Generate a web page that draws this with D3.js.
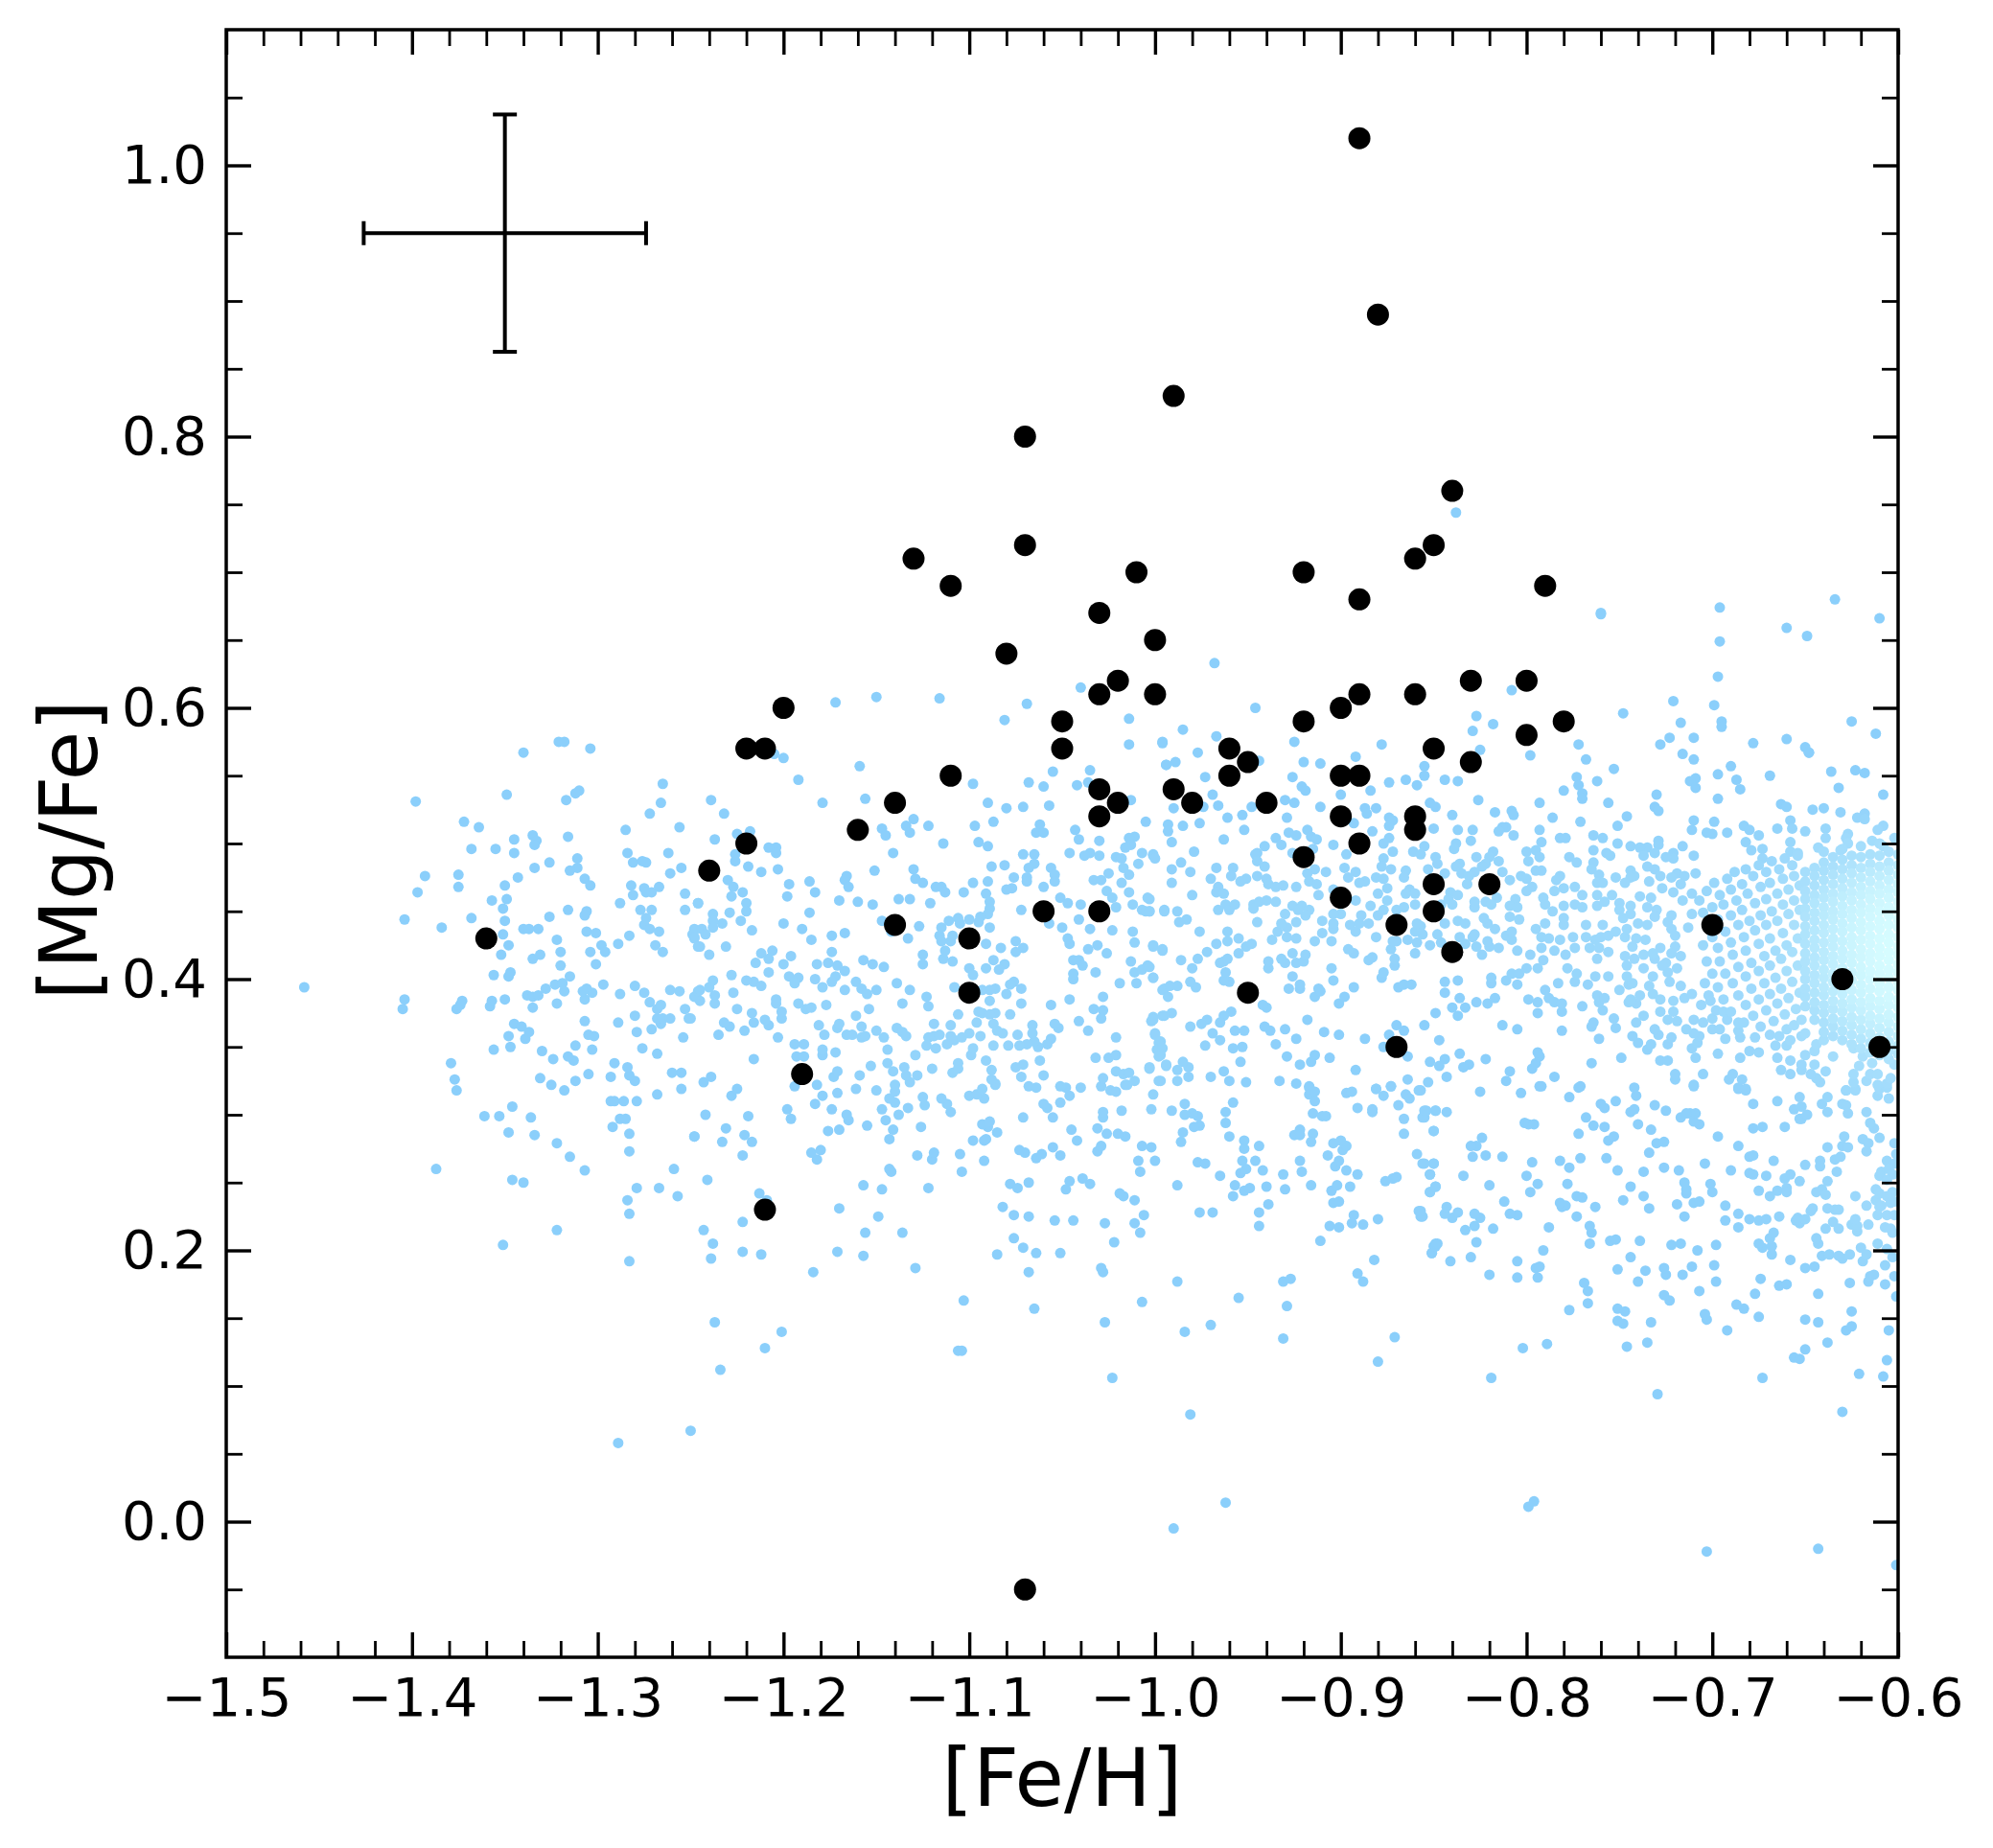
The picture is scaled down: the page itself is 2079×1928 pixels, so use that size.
<!DOCTYPE html>
<html>
<head>
<meta charset="utf-8">
<script src="https://cdn.jsdelivr.net/npm/d3@7"></script>
<style>
  html, body { margin: 0; background: #fff; }
  text { font-family: "DejaVu Sans"; fill: #000; }
</style>
</head>
<body>
<svg id="chart"></svg>
<script>
// black stars
const starFe = [-1.36,-1.24,-1.22,-1.21,-1.2,-1.22,-1.19,-1.21,-1.16,-1.14,-1.14,-1.13,-1.11,-1.11,-1.1,-1.1,-1.08,-1.07,-1.07,-1.07,-1.06,-1.05,-1.05,-1.03,-1.03,-1.03,-1.03,-1.03,-1.02,-1.02,-1.01,-1,-1,-.99,-.99,-.98,-.96,-.96,-.95,-.95,-.94,-.92,-.92,-.92,-.9,-.9,-.9,-.9,-.89,-.89,-.89,-.89,-.89,-.88,-.87,-.87,-.86,-.86,-.86,-.86,-.85,-.85,-.85,-.85,-.84,-.84,-.83,-.83,-.82,-.8,-.8,-.79,-.78,-.7,-.63,-.61];
const starMg = [.43,.48,.57,.57,.6,.5,.33,.23,.51,.53,.44,.71,.69,.55,.43,.39,.64,.8,.72,-.05,.45,.59,.57,.67,.61,.54,.52,.45,.62,.53,.7,.65,.61,.83,.54,.53,.57,.55,.56,.39,.53,.7,.59,.49,.6,.55,.52,.46,1.02,.68,.61,.55,.5,.89,.44,.35,.71,.61,.52,.51,.72,.57,.47,.45,.76,.42,.62,.56,.47,.62,.58,.69,.59,.44,.4,.35];

// typical uncertainty
const errFe = -1.35, errMg = .95, errFeSize = .076, errMgSize = .0875;

// field stars, fe,mg,fe,mg...
const fieldLeft = [-1.458,.394,-1.398,.531,-1.404,.444,-1.384,.438,-1.404,.385,-1.405,.378,-1.393,.476,-1.397,.464,-1.375,.477,-1.375,.468,-1.372,.516,-1.364,.512,-1.368,.496,-1.368,.445,-1.357,.458,-1.355,.496,-1.349,.536,-1.345,.503,-1.345,.493,-1.343,.475,-1.35,.469,-1.349,.459,-1.351,.452,-1.35,.443,-1.351,.433,-1.348,.425,-1.352,.418,-1.347,.405,-1.348,.402,-1.356,.403,-1.35,.385,-1.357,.384,-1.358,.38,-1.373,.384,-1.374,.381,-1.376,.378,-1.34,.437,-1.337,.437,-1.332,.437,-1.34,.567,-1.335,.506,-1.333,.502,-1.334,.499,-1.334,.482,-1.326,.486,-1.317,.532,-1.321,.575,-1.318,.575,-1.304,.57,-1.31,.539,-1.312,.537,-1.316,.505,-1.311,.489,-1.311,.482,-1.315,.48,-1.307,.474,-1.304,.469,-1.316,.451,-1.306,.45,-1.307,.447,-1.326,.446,-1.322,.429,-1.306,.435,-1.301,.434,-1.32,.42,-1.331,.418,-1.335,.415,-1.32,.41,-1.304,.42,-1.298,.425,-1.296,.42,-1.301,.411,-1.315,.402,-1.328,.393,-1.323,.396,-1.319,.397,-1.318,.391,-1.306,.393,-1.308,.391,-1.303,.39,-1.297,.396,-1.307,.385,-1.338,.388,-1.335,.387,-1.332,.388,-1.322,.382,-1.335,.379,-1.288,.389,-1.28,.395,-1.275,.39,-1.272,.383,-1.261,.392,-1.256,.391,-1.248,.387,-1.246,.391,-1.268,.378,-1.266,.381,-1.253,.378,-1.307,.369,-1.289,.368,-1.28,.373,-1.268,.371,-1.265,.371,-1.266,.367,-1.261,.371,-1.251,.371,-1.271,.363,-1.279,.361,-1.305,.359,-1.302,.358,-1.254,.357,-1.345,.367,-1.341,.365,-1.337,.361,-1.339,.356,-1.348,.358,-1.347,.35,-1.356,.348,-1.312,.351,-1.33,.347,-1.303,.348,-1.316,.343,-1.313,.34,-1.324,.341,-1.276,.349,-1.268,.345,-1.379,.338,-1.377,.326,-1.376,.318,-1.291,.338,-1.284,.335,-1.283,.329,-1.28,.325,-1.293,.328,-1.331,.327,-1.325,.322,-1.318,.318,-1.312,.325,-1.305,.33,-1.26,.331,-1.255,.331,-1.255,.319,-1.268,.315,-1.346,.306,-1.361,.299,-1.353,.299,-1.336,.298,-1.348,.287,-1.334,.285,-1.322,.279,-1.315,.269,-1.307,.259,-1.293,.31,-1.291,.31,-1.286,.31,-1.279,.31,-1.288,.297,-1.285,.297,-1.292,.291,-1.283,.286,-1.283,.273,-1.248,.284,-1.259,.26,-1.387,.26,-1.346,.252,-1.34,.25,-1.279,.246,-1.267,.246,-1.265,.544,-1.266,.53,-1.272,.522,-1.256,.512,-1.285,.51,-1.262,.493,-1.284,.493,-1.281,.486,-1.276,.487,-1.274,.486,-1.255,.482,-1.261,.478,-1.282,.469,-1.281,.462,-1.275,.467,-1.274,.464,-1.271,.464,-1.267,.468,-1.253,.463,-1.288,.456,-1.277,.451,-1.271,.451,-1.253,.451,-1.274,.445,-1.275,.44,-1.272,.437,-1.267,.435,-1.283,.432,-1.289,.426,-1.269,.425,-1.265,.42,-1.248,.437,-1.249,.433,-1.248,.43,-1.246,.456,-1.246,.424];
const fieldMidLeft = [-1.081,.591,-1.014,.592,-1.014,.573,-.996,.575,-.994,.558,-1.205,.566,-1.2,.563,-1.192,.547,-1.159,.557,-1.055,.553,-1.035,.554,-1.239,.532,-1.232,.522,-1.179,.53,-1.156,.533,-1.098,.544,-1.068,.545,-1.06,.542,-1.042,.543,-1.036,.545,-1.09,.53,-1.08,.526,-1.071,.527,-1.057,.528,-1.013,.532,-1.005,.516,-1.13,.518,-1.134,.513,-1.132,.508,-1.122,.513,-1.147,.511,-1.145,.506,-1.097,.513,-1.087,.516,-1.062,.514,-1.064,.508,-1.06,.508,-1.043,.51,-1.041,.503,-1.03,.502,-1.011,.505,-1.014,.504,-1.013,.499,-1.016,.497,-1.225,.507,-1.218,.509,-1.237,.503,-1.114,.5,-1.095,.501,-1.09,.498,-1.208,.497,-1.204,.497,-1.204,.493,-1.141,.493,-1.071,.492,-1.065,.492,-1.046,.493,-1.038,.491,-1.035,.493,-1.03,.491,-1.021,.49,-1.018,.489,-1.007,.493,-1.001,.492,-1.226,.492,-1.226,.487,-1.219,.483,-1.212,.479,-1.203,.481,-1.009,.485,-1.081,.484,-1.088,.483,-1.068,.482,-1.065,.485,-1.056,.482,-1.054,.477,-1.017,.482,-1.014,.477,-1.025,.478,-1.13,.481,-1.151,.48,-1.166,.476,-1.167,.473,-1.165,.468,-1.076,.475,-1.069,.475,-1.069,.472,-1.129,.474,-1.125,.471,-1.09,.472,-1.098,.471,-1.054,.472,-1.033,.473,-1.029,.473,-1.018,.471,-1.23,.473,-1.227,.468,-1.186,.472,-1.183,.464,-1.197,.47,-1.198,.461,-1.118,.468,-1.115,.468,-1.113,.464,-1.103,.464,-1.08,.466,-1.077,.467,-1.06,.468,-1.026,.465,-1.023,.46,-1.014,.464,-1.051,.46,-1.047,.456,-1.004,.46,-1.091,.463,-1.089,.457,-1.222,.464,-1.228,.461,-1.17,.458,-1.16,.457,-1.152,.455,-1.138,.459,-1.132,.459,-1.121,.456,-1.246,.456,-1.22,.456,-1.22,.45,-1.04,.455,-1.021,.453,-1.012,.455,-1.007,.451,-1.005,.45,-1.003,.45,-.995,.451,-1.072,.451,-1.186,.449,-1.229,.449,-1.238,.448,-1.238,.443,-1.089,.452,-1.09,.448,-1.094,.446,-1.223,.443,-1.233,.441,-1.238,.438,-1.2,.441,-1.147,.443,-1.111,.443,-1.106,.445,-1.105,.441,-1.1,.444,-1.095,.442,-1.041,.444,-1.057,.441,-1.248,.436,-1.244,.437,-1.242,.433,-1.248,.431,-1.217,.436,-1.19,.437,-1.127,.439,-1.115,.438,-1.089,.438,-1.05,.438,-1.035,.437,-1.023,.436,-1.012,.435,-1.174,.432,-1.167,.434,-1.142,.435,-1.133,.43,-1.116,.432,-1.109,.432,-1.115,.428,-1.11,.428,-1.185,.429,-1.047,.43,-1.046,.426,-1.075,.428,-1.091,.426,-1.011,.427,-1.001,.425,-.996,.422,-1.245,.424,-1.231,.424,-1.083,.423,-1.071,.423,-1.075,.42,-1.031,.425,-1.036,.422,-1.026,.419,-1.24,.418,-1.212,.419,-1.206,.421,-1.208,.415,-1.174,.42,-1.196,.417,-1.113,.421,-1.125,.418,-1.114,.415,-1.109,.413,-1.087,.414,-1.081,.411,-1.044,.414,-1.041,.414,-1.039,.41,-1.013,.413,-1.215,.412,-1.2,.411,-1.182,.411,-1.176,.412,-1.171,.41,-1.157,.414,-1.152,.411,-1.146,.409,-1.125,.411,-1.1,.408,-1.091,.408,-1.084,.407,-1.032,.405,-1.004,.41,-1.007,.407,-1.011,.405,-1.001,.401,-1.208,.405,-1.228,.403,-1.167,.406,-1.172,.402,-1.098,.403,-1.044,.404,-1.044,.4,-1.197,.402,-1.192,.401,-1.183,.4,-1.238,.399,-1.22,.399,-1.216,.398,-1.194,.397,-1.174,.398,-1.161,.398,-1.076,.398,-1.078,.396,-1.019,.397,-1.01,.397,-1.212,.395,-1.24,.394,-1.179,.394,-1.139,.397,-1.158,.393,-1.108,.394,-1.093,.392,-1.089,.392,-1.086,.393,-1.072,.393,-1.245,.392,-1.247,.387,-1.245,.384,-1.227,.39,-1.167,.392,-1.155,.389,-1.15,.392,-1.132,.392,-.995,.393,-1.08,.389,-1.237,.388,-1.123,.387,-1.028,.387,-1.204,.385,-1.237,.382,-1.204,.382,-1.177,.381,-1.136,.382,-1.122,.38,-1.089,.384,-1.072,.382,-1.056,.381,-1.046,.385,-1.192,.382,-1.225,.378,-1.201,.376,-1.188,.378,-1.185,.379,-1.154,.378,-1.033,.378,-1.028,.377,-1.095,.376,-1.093,.375,-1.089,.374,-1.086,.375,-1.106,.374,-1.217,.375,-1.078,.374,-1.029,.371,-.995,.373,-1.001,.372,-1.002,.369,-1.25,.371,-1.201,.371,-1.161,.373,-1.096,.368,-1.041,.369,-1.119,.367,-1.232,.368,-1.216,.368,-1.21,.37,-1.208,.366,-1.181,.366,-1.17,.367,-1.171,.364,-1.158,.365,-1.087,.367,-1.11,.366,-1.054,.367,-1.052,.364,-1.066,.366,-1.229,.365,-1.221,.362,-1.235,.359,-1.139,.364,-1.085,.362,-1.036,.362,-1.15,.362,-1.136,.361,-1.134,.358,-1.146,.357,-1.178,.359,-1.166,.359,-1.163,.359,-1.158,.357,-1.156,.358,-1.203,.357,-1.122,.357,-1.119,.358,-1.116,.359,-1.11,.358,-1.108,.355,-1.104,.357,-1.1,.36,-1.094,.358,-1.082,.36,-1.074,.359,-1.066,.36,-1.056,.356,-1.021,.357,-1,.36,-1.194,.352,-1.189,.352,-1.179,.348,-1.087,.351,-1.079,.351,-1.073,.351,-1.069,.352,-1.065,.354,-1.063,.35,-1.058,.352,-1.123,.351,-1.118,.349,-1.112,.352,-1.144,.348,-1.098,.349,-.997,.354,-.996,.349,-1.193,.343,-1.189,.343,-1.179,.344,-1.172,.346,-1.129,.344,-1.099,.344,-.997,.344,-1.032,.342,-1.025,.342,-1.021,.344,-1.062,.34,-1.216,.341,-1.091,.34,-1.144,.338,-1.153,.336,-1.106,.338,-1.135,.335,-1.071,.337,-1.075,.335,-.994,.337,-1.003,.335,-1.12,.334,-1.171,.332,-1.173,.328,-1.141,.332,-1.088,.333,-1.109,.331,-1.106,.334,-1.072,.328,-1.06,.329,-1.021,.332,-1.014,.331,-1.017,.33,-1.239,.328,-1.243,.324,-1.159,.329,-1.134,.329,-1.128,.329,-1.028,.327,-1.088,.326,-1.086,.323,-1.132,.324,-1.011,.325,-1.015,.322,-.997,.325,-1.225,.319,-1.228,.314,-1.182,.322,-1.194,.321,-1.14,.322,-1.161,.319,-1.15,.318,-1.171,.316,-1.179,.314,-1.14,.317,-1.143,.312,-1.14,.309,-1.183,.308,-1.125,.313,-1.124,.307,-1.115,.312,-1.112,.308,-1.11,.302,-1.147,.304,-1.133,.305,-1.198,.304,-1.174,.304,-1.242,.3,-1.219,.299,-1.196,.297,-1.166,.3,-1.165,.296,-1.138,.3,-1.145,.296,-1.231,.29,-1.155,.292,-1.126,.291,-1.141,.289,-1.176,.288,-1.17,.289,-1.248,.284,-1.221,.285,-1.233,.28,-1.217,.28,-1.143,.282,-1.18,.274,-1.185,.272,-1.182,.267,-1.222,.27,-1.128,.27,-1.119,.272,-1.12,.267,-1.143,.26,-1.142,.258,-1.241,.252,-1.157,.248,-1.122,.246,-1.147,.245];
const fieldLowLeft = [-1.351,.204,-1.322,.215,-1.284,.237,-1.283,.227,-1.257,.24,-1.283,.192,-1.243,.215,-1.238,.205,-1.239,.194,-1.222,.221,-1.213,.242,-1.209,.237,-1.222,.199,-1.212,.197,-1.17,.231,-1.149,.225,-1.156,.213,-1.136,.213,-1.171,.199,-1.157,.196,-1.184,.184,-1.129,.187,-1.237,.147,-1.201,.14,-1.21,.128,-1.234,.112,-1.106,.126,-1.25,.067,-1.289,.058,-.981,.079,-.99,-.005,-.962,.014,-1.172,.604,-1.15,.608,-1.116,.607,-1.069,.603,-1.04,.615];
const fieldMid = [-.968,.633,-.76,.669,-.838,.744,-.946,.6,-.985,.584,-.967,.579,-.996,.574,-.925,.575,-.977,.567,-.878,.573,-.892,.564,-.829,.583,-.827,.594,-.818,.588,-.808,.613,-.798,.565,-.825,.569,-.944,.561,-.92,.56,-.911,.559,-.855,.557,-.855,.55,-.989,.56,-.994,.558,-.973,.549,-.926,.549,-.865,.547,-.844,.547,-.837,.546,-.874,.545,-.859,.543,-.921,.542,-.919,.539,-.884,.539,-.9,.536,-.969,.536,-.966,.528,-.826,.532,-.93,.532,-.925,.53,-.852,.53,-.849,.527,-.99,.526,-.974,.527,-.948,.527,-.911,.527,-.887,.526,-.886,.522,-.881,.526,-.817,.523,-.808,.524,-.807,.521,-.84,.521,-.953,.521,-.961,.519,-.929,.519,-.874,.519,-.872,.517,-.893,.515,-.874,.513,-.813,.512,-.811,.512,-.815,.509,-.807,.506,-.85,.511,-.993,.514,-.993,.509,-.976,.515,-.985,.513,-.837,.51,-.829,.51,-.952,.51,-.928,.508,-.924,.506,-.918,.51,-.883,.509,-.916,.505,-.913,.503,-.991,.501,-.963,.503,-.935,.504,-.874,.504,-.877,.5,-.83,.502,-.941,.498,-.932,.499,-.904,.499,-.855,.498,-.838,.5,-.839,.496,-.915,.496,-1.001,.491,-.979,.494,-.926,.493,-.945,.493,-.946,.492,-.872,.494,-.897,.492,-.861,.494,-.857,.492,-.8,.494,-.818,.494,-1,.489,-.986,.486,-.945,.487,-.941,.483,-.877,.489,-.878,.483,-.849,.49,-.848,.485,-.827,.49,-.82,.49,-.822,.485,-.815,.487,-.799,.487,-.967,.482,-.958,.482,-.991,.481,-.898,.482,-.873,.481,-.836,.485,-.838,.483,-.835,.478,-.853,.481,-.844,.478,-.981,.479,-.908,.479,-.914,.481,-.918,.478,-.892,.479,-.865,.48,-.866,.475,-.813,.479,-.824,.483,-.828,.479,-.831,.476,-.959,.476,-.97,.474,-.896,.475,-.881,.475,-.877,.474,-.945,.476,-.94,.474,-.809,.473,-.803,.476,-.8,.474,-.991,.471,-.954,.472,-.951,.474,-.917,.472,-.913,.47,-.89,.471,-.887,.472,-.935,.468,-.931,.469,-.939,.47,-.924,.468,-.832,.47,-.966,.468,-.875,.467,-.904,.466,-.797,.468,-.8,.465,-.98,.462,-.967,.464,-.963,.463,-.912,.462,-.88,.463,-.865,.463,-.863,.466,-.86,.463,-.841,.464,-.837,.462,-.806,.459,-1.003,.459,-.935,.457,-.94,.458,-.944,.457,-.947,.455,-.892,.458,-.875,.458,-.842,.459,-.846,.455,-.84,.455,-.816,.46,-.819,.455,-.822,.457,-.828,.457,-.828,.453,-.962,.455,-.957,.455,-.884,.454,-.866,.453,-.87,.451,-.86,.455,-.809,.454,-.805,.453,-.926,.454,-.921,.454,-.917,.451,-.923,.451,-.919,.447,-.966,.451,-.96,.451,-.947,.452,-.995,.45,-.988,.45,-1.003,.45,-.877,.451,-.88,.447,-.9,.448,-.904,.448,-.889,.447,-.93,.448,-.809,.446,-.804,.444,-.837,.443,-.833,.441,-.823,.445,-.821,.441,-.817,.437,-.844,.441,-.987,.442,-.983,.444,-.945,.442,-.91,.443,-.904,.441,-.904,.437,-.924,.442,-.932,.441,-.929,.438,-.934,.435,-.895,.44,-.89,.441,-.885,.441,-.859,.441,-.857,.439,-.976,.435,-.961,.435,-.892,.435,-.91,.434,-.86,.435,-.856,.433,-.848,.433,-.846,.427,-.828,.433,-.829,.431,-.811,.432,-.808,.435,-.808,.429,-.821,.428,-.82,.424,-.836,.431,-.833,.426,-.929,.431,-.924,.43,-.937,.429,-.955,.43,-.961,.428,-.905,.428,-.914,.428,-.881,.431,-.872,.428,-.87,.428,-.864,.429,-.859,.427,-1.001,.424,-.996,.421,-.967,.426,-.948,.426,-.951,.424,-.955,.419,-.972,.42,-.827,.424,-.824,.418,-.815,.423,-.896,.422,-.893,.419,-.873,.422,-.852,.425,-.805,.421,-.963,.413,-.961,.415,-.986,.414,-.977,.415,-.939,.413,-.939,.408,-.932,.415,-.93,.412,-.926,.419,-.924,.412,-.919,.418,-.92,.413,-.86,.419,-.871,.415,-.871,.41,-.883,.416,-.885,.414,-.798,.418,-.8,.408,-.98,.408,-.965,.412,-1.001,.401,-1.003,.409,-.905,.408,-.962,.405,-.877,.405,-.878,.401,-.926,.402,-.819,.401,-.819,.397,-.811,.399,-.808,.404,-.805,.396,-.804,.404,-.844,.398,-.837,.399,-.981,.398,-.978,.394,-.963,.399,-.96,.398,-.904,.399,-.992,.395,-.988,.395,-.996,.392,-.922,.396,-.922,.393,-.928,.393,-.912,.393,-.911,.391,-.914,.387,-.893,.394,-.869,.394,-.866,.396,-.862,.396,-.844,.39,-.993,.387,-.898,.387,-.901,.382,-.799,.385,-.827,.383,-.821,.382,-.817,.386,-.836,.386,-.833,.379,-.84,.379,-.837,.373,-.942,.381,-.94,.379,-.849,.375,-.959,.376,-.963,.373,-.965,.368,-.991,.375,-.996,.373,-1.001,.37,-.918,.37,-.972,.37,-.975,.367,-.981,.365,-.855,.366,-.813,.366,-.805,.363,-.87,.366,-.866,.362,-.874,.359,-.877,.35,-.941,.365,-.938,.362,-.93,.363,-.909,.361,-.901,.359,-.969,.36,-.965,.355,-.957,.362,-.952,.362,-1,.359,-.924,.356,-.887,.356,-.847,.355,-.998,.353,-.999,.348,-.998,.343,-.973,.351,-.958,.349,-.953,.35,-.935,.352,-.836,.345,-.831,.337,-.834,.335,-.844,.341,-.847,.336,-.822,.341,-.852,.339,-.864,.343,-.797,.334,-.929,.343,-.914,.344,-.916,.339,-.906,.342,-.922,.337,-.954,.339,-.994,.336,-.982,.335,-.985,.339,-.988,.333,-.982,.328,-.892,.333,-.963,.332,-1.003,.334,-.97,.328,-.96,.325,-.951,.324,-.809,.332,-.811,.325,-.843,.328,-.864,.326,-.853,.324,-.998,.325,-.988,.325,-.933,.325,-.924,.323,-.873,.321,-.917,.32,-.881,.319];
const fieldRight = [-.768,.562,-.753,.555,-.716,.566,-.71,.562,-.773,.549,-.762,.546,-.772,.543,-.77,.537,-.77,.533,-.78,.539,-.793,.53,-.756,.53,-.69,.557,-.697,.551,-.687,.547,-.712,.546,-.709,.548,-.709,.541,-.685,.54,-.669,.55,-.73,.536,-.697,.533,-.731,.527,-.729,.524,-.786,.519,-.771,.516,-.746,.52,-.751,.513,-.793,.51,-.764,.506,-.782,.504,-.779,.504,-.759,.504,-.751,.5,-.792,.501,-.71,.517,-.711,.51,-.703,.508,-.7,.507,-.699,.516,-.692,.508,-.683,.513,-.68,.51,-.682,.501,-.675,.506,-.665,.511,-.658,.517,-.657,.511,-.65,.509,-.663,.529,-.66,.527,-.646,.525,-.64,.526,-.631,.523,-.636,.553,-.623,.554,-.618,.552,-.632,.541,-.608,.536,-.648,.567,-.622,.519,-.618,.522,-.618,.518,-.639,.511,-.639,.504,-.627,.507,-.628,.504,-.627,.5,-.631,.495,-.608,.513,-.611,.51,-.614,.502,-.602,.504,-.658,.501,-.643,.497,-.608,.498,-.744,.498,-.739,.497,-.735,.497,-.737,.491,-.731,.493,-.729,.502,-.729,.499,-.716,.498,-.71,.491,-.764,.495,-.757,.493,-.755,.491,-.658,.494,-.654,.493,-.673,.496,-.679,.495,-.673,.489,-.777,.49,-.773,.486,-.721,.493,-.725,.49,-.721,.489,-.795,.495,-.793,.49,-.764,.486,-.765,.481,-.735,.483,-.731,.481,-.728,.476,-.744,.48,-.742,.476,-.747,.471,-.744,.475,-.792,.48,-.795,.48,-.709,.478,-.761,.477,-.759,.471,-.762,.471,-.782,.476,-.784,.473,-.752,.475,-.734,.472,-.722,.475,-.719,.478,-.715,.476,-.717,.47,-.727,.467,-.721,.464,-.716,.458,-.711,.463,-.774,.468,-.77,.462,-.78,.467,-.785,.465,-.762,.462,-.754,.462,-.758,.457,-.762,.454,-.739,.461,-.733,.46,-.735,.453,-.75,.456,-.791,.46,-.79,.455,-.786,.45,-.78,.454,-.774,.455,-.77,.453,-.744,.454,-.75,.451,-.73,.451,-.731,.446,-.748,.445,-.744,.448,-.78,.445,-.78,.44,-.775,.431,-.79,.441,-.795,.437,-.722,.447,-.724,.442,-.722,.437,-.72,.432,-.713,.438,-.711,.448,-.768,.44,-.759,.44,-.752,.435,-.746,.437,-.74,.441,-.735,.44,-.768,.431,-.763,.429,-.76,.431,-.756,.432,-.788,.43,-.782,.429,-.792,.431,-.747,.431,-.741,.43,-.736,.429,-.743,.424,-.766,.423,-.761,.423,-.756,.42,-.774,.423,-.728,.423,-.732,.419,-.737,.418,-.792,.423,-.785,.421,-.779,.418,-.762,.415,-.794,.408,-.791,.414,-.747,.417,-.742,.415,-.746,.41,-.737,.408,-.731,.415,-.725,.412,-.722,.419,-.72,.424,-.717,.417,-.778,.408,-.773,.404,-.763,.402,-.756,.402,-.767,.396,-.774,.398,-.746,.402,-.745,.396,-.743,.397,-.732,.402,-.734,.395,-.727,.41,-.724,.405,-.719,.408,-.723,.398,-.717,.395,-.783,.397,-.79,.392,-.788,.386,-.785,.383,-.781,.382,-.781,.376,-.762,.388,-.758,.386,-.761,.383,-.759,.377,-.75,.392,-.732,.389,-.739,.388,-.744,.385,-.745,.383,-.741,.382,-.737,.373,-.741,.368,-.728,.385,-.728,.376,-.794,.383,-.794,.375,-.77,.38,-.721,.384,-.715,.386,-.711,.389,-.753,.371,-.752,.364,-.721,.376,-.724,.37,-.719,.369,-.714,.363,-.764,.368,-.765,.365,-.781,.362,-.731,.363,-.729,.359,-.743,.358,-.74,.353,-.761,.356,-.71,.36,-.707,.358,-.708,.353,-.711,.349,-.722,.357,-.724,.352,-.733,.352,-.735,.348,-.794,.346,-.793,.343,-.795,.338,-.749,.342,-.709,.342,-.697,.345,-.685,.342,-.68,.347,-.675,.346,-.728,.34,-.724,.34,-.765,.338,-.72,.33,-.72,.326,-.705,.33,-.785,.328,-.689,.33,-.691,.326,-.684,.326,-.686,.32,-.682,.318,-.71,.322,-.793,.321,-.772,.32,-.665,.342,-.658,.34,-.663,.333,-.658,.33,-.652,.337,-.652,.333,-.647,.33,-.644,.327,-.642,.324,-.639,.332,-.628,.318,-.623,.318,-.65,.344,-.645,.337,-.635,.343,-.624,.33,-.621,.336,-.624,.324,-.617,.325,-.615,.33,-.611,.33,-.611,.322,-.606,.323,-.604,.327,-.624,.349,-.619,.343,-.602,.337,-.614,.338,-.666,.351,-.66,.351,-.658,.355,-.677,.357,-.669,.359,-.664,.358,-.645,.347,-.644,.352,-.64,.355,-.65,.36,-.693,.356,-.685,.357,-.686,.362,-.7,.363,-.696,.363,-.683,.368,-.705,.368,-.71,.37,-.692,.37,-.694,.376,-.7,.371,-.706,.381,-.701,.384];
const fieldUpper = [-.76,.67,-.696,.674,-.696,.649,-.697,.623,-.699,.602,-.721,.605,-.66,.659,-.649,.653,-.634,.68,-.61,.666,-.748,.596,-.717,.589,-.695,.59,-.695,.586,-.723,.578,-.728,.573,-.71,.578,-.678,.574,-.66,.577,-.65,.571,-.648,.567,-.625,.59,-.612,.581,-.772,.573];
const fieldLowMid = [-1.1,.314,-1.096,.315,-1.092,.312,-1.093,.319,-1.086,.322,-1.068,.321,-1.064,.32,-1.051,.321,-1.048,.32,-1.046,.314,-1.051,.309,-1.04,.32,-1.029,.321,-1.024,.318,-1.021,.317,-1.016,.322,-1.001,.315,-1.06,.308,-1.058,.305,-1.055,.298,-1.071,.298,-1.028,.302,-1.028,.298,-1.018,.303,-1.002,.304,-.991,.303,-.984,.308,-.984,.3,-.98,.301,-.977,.299,-.958,.309,-.962,.302,-.962,.294,-.96,.284,-.917,.321,-.914,.317,-.917,.315,-.914,.31,-.915,.301,-.91,.299,-.908,.299,-.897,.316,-.894,.317,-.891,.305,-.883,.304,-.883,.302,-.881,.319,-.877,.314,-.873,.321,-.865,.315,-.863,.312,-.858,.318,-.869,.307,-.866,.297,-.866,.286,-.854,.303,-.856,.298,-.849,.303,-.85,.288,-1.093,.293,-1.089,.295,-1.09,.291,-1.085,.287,-1.098,.281,-1.092,.281,-1.091,.282,-1.045,.289,-1.042,.281,-1.031,.29,-1.026,.286,-1.02,.286,-1.016,.284,-.985,.287,-.986,.28,-.979,.291,-.976,.292,-.922,.289,-.925,.285,-.922,.285,-.915,.286,-.916,.28,-.952,.281,-.952,.275,-.944,.277,-.9,.281,-.904,.279,-.897,.277,-.899,.274,-1.105,.271,-1.073,.274,-1.07,.272,-1.061,.271,-1.064,.268,-1.055,.276,-1.051,.27,-1.007,.277,-1.002,.276,-1.029,.277,-1.031,.273,-1.092,.266,-1.009,.266,-1,.266,-1.008,.258,-.977,.265,-.973,.264,-.953,.266,-.946,.266,-.922,.266,-.907,.27,-.901,.266,-.903,.262,-.859,.271,-.856,.264,-.85,.264,-1.104,.258,-.951,.26,-.954,.257,-.942,.259,-.965,.255,-.931,.256,-.921,.258,-.897,.259,-.891,.256,-.852,.256,-1.078,.249,-1.074,.246,-1.068,.25,-1.046,.251,-1.048,.245,-1.039,.253,-1.035,.249,-.988,.248,-.957,.248,-.952,.244,-.949,.246,-.94,.247,-.93,.245,-.916,.248,-.902,.248,-.905,.244,-.895,.247,-.876,.251,-.872,.253,-.87,.254,-.852,.243,-.849,.247,-1.019,.242,-1.017,.24,-1.011,.237,-.958,.24,-.939,.234,-.944,.228,-.904,.235,-.901,.236,-1.082,.232,-1.076,.226,-1.068,.225,-1.054,.222,-1.044,.222,-.976,.228,-.969,.228,-1.006,.226,-1.011,.22,-1.008,.213,-1.027,.22,-.893,.226,-.894,.22,-.888,.219,-.88,.223,-.906,.218,-.901,.217,-.858,.229,-.857,.225,-.944,.218,-1.076,.209,-1.071,.202,-1.064,.198,-1.051,.198,-1.085,.197,-1.022,.206,-.911,.207,-.849,.205,-.85,.203,-.851,.198,-.882,.193,-1.068,.184,-1.029,.187,-1.028,.184,-.988,.177,-.931,.177,-.927,.179,-.891,.183,-.888,.177,-.955,.165,-1.007,.162,-1.103,.163,-.929,.159,-1.065,.157,-1.027,.147,-.97,.145,-.984,.14,-.931,.135,-.871,.136,-1.104,.126,-.88,.118,-1.023,.106];
const fieldLowRight = [-.825,.317,-.803,.316,-.792,.321,-.777,.313,-.771,.321,-.857,.318,-.742,.32,-.741,.314,-.71,.321,-.76,.308,-.758,.305,-.752,.31,-.731,.307,-.725,.303,-.744,.302,-.742,.304,-.855,.303,-.849,.303,-.843,.302,-.855,.298,-.768,.298,-.801,.294,-.799,.293,-.796,.293,-.764,.292,-.758,.291,-.74,.293,-.733,.289,-.85,.288,-.772,.286,-.753,.284,-.756,.281,-.824,.283,-.83,.277,-.827,.277,-.686,.319,-.682,.319,-.678,.308,-.665,.31,-.653,.313,-.638,.313,-.717,.298,-.714,.301,-.712,.301,-.709,.301,-.71,.295,-.707,.293,-.656,.304,-.652,.306,-.653,.297,-.649,.3,-.652,.297,-.641,.308,-.638,.302,-.63,.308,-.627,.301,-.628,.307,-.617,.302,-.628,.318,-.623,.319,-.61,.319,-.606,.32,-.611,.314,-.605,.312,-.615,.294,-.613,.29,-.61,.283,-.678,.29,-.673,.291,-.661,.291,-.697,.284,-.73,.279,-.726,.28,-.734,.272,-.686,.277,-.629,.284,-.619,.282,-.616,.279,-.617,.273,-.638,.276,-.63,.277,-.627,.276,-.602,.279,-.68,.269,-.678,.27,-.667,.266,-.631,.269,-.634,.267,-.642,.266,-.642,.262,-.65,.263,-.829,.269,-.822,.27,-.813,.269,-.797,.265,-.782,.266,-.771,.268,-.757,.268,-.855,.264,-.85,.264,-.777,.261,-.726,.261,-.718,.259,-.704,.264,-.69,.259,-.751,.259,-.737,.258,-.852,.256,-.834,.255,-.8,.255,-.68,.257,-.678,.256,-.671,.255,-.661,.253,-.658,.256,-.653,.251,-.633,.258,-.606,.266,-.609,.258,-.61,.255,-.605,.26,-.602,.264,-.603,.256,-.601,.271,-.606,.252,-.638,.251,-.82,.248,-.794,.249,-.778,.249,-.744,.247,-.849,.247,-.852,.243,-.715,.25,-.714,.245,-.714,.242,-.701,.249,-.7,.243,-.675,.244,-.669,.24,-.665,.244,-.66,.246,-.66,.243,-.644,.243,-.641,.245,-.639,.241,-.612,.245,-.61,.242,-.612,.237,-.606,.24,-.603,.243,-.609,.233,-.602,.236,-.61,.232,-.604,.235,-.798,.243,-.737,.24,-.773,.24,-.77,.239,-.623,.24,-.812,.236,-.748,.237,-.71,.235,-.707,.236,-.719,.234,-.782,.235,-.779,.233,-.781,.232,-.843,.232,-.837,.228,-.844,.227,-.84,.224,-.763,.232,-.734,.231,-.693,.233,-.617,.233,-.646,.231,-.647,.229,-.638,.231,-.634,.23,-.632,.23,-.828,.227,-.825,.224,-.809,.227,-.805,.226,-.686,.227,-.715,.225,-.773,.225,-.857,.229,-.856,.225,-.611,.226,-.606,.226,-.602,.226,-.693,.222,-.68,.223,-.675,.222,-.671,.223,-.664,.225,-.654,.224,-.655,.222,-.653,.22,-.65,.223,-.635,.221,-.632,.216,-.625,.219,-.622,.218,-.623,.223,-.622,.214,-.616,.219,-.607,.217,-.604,.216,-.603,.213,-.828,.218,-.833,.215,-.818,.216,-.788,.217,-.766,.218,-.765,.213,-.686,.217,-.639,.216,-.667,.213,-.669,.209,-.644,.209,-.643,.205,-.827,.206,-.848,.205,-.849,.203,-.851,.198,-.739,.207,-.752,.208,-.755,.207,-.766,.205,-.675,.205,-.673,.202,-.668,.203,-.668,.197,-.611,.205,-.606,.201,-.722,.204,-.717,.205,-.698,.204,-.708,.2,-.62,.202,-.617,.197,-.791,.2,-.83,.195,-.841,.192,-.744,.195,-.641,.196,-.637,.197,-.632,.196,-.63,.194,-.626,.197,-.619,.192,-.603,.195,-.658,.193,-.805,.192,-.795,.187,-.793,.188,-.711,.188,-.699,.189,-.726,.187,-.725,.182,-.751,.186,-.736,.185,-.65,.187,-.645,.188,-.607,.189,-.82,.182,-.805,.18,-.794,.18,-.716,.182,-.602,.181,-.615,.181,-.613,.182,-.616,.177,-.674,.179,-.769,.176,-.74,.177,-.698,.177,-.767,.17,-.707,.17,-.664,.174,-.66,.175,-.626,.176,-.607,.175,-.677,.168,-.643,.168,-.726,.167,-.723,.163,-.601,.166,-.767,.161,-.777,.156,-.687,.16,-.683,.157,-.751,.157,-.747,.155,-.625,.155,-.704,.153,-.703,.149,-.675,.151,-.751,.148,-.748,.146,-.733,.147,-.65,.149,-.643,.147,-.625,.144,-.628,.141,-.605,.141,-.692,.141,-.789,.131,-.802,.128,-.746,.129,-.735,.132,-.638,.132,-.65,.127,-.656,.121,-.653,.12,-.606,.119,-.819,.106,-.673,.106,-.621,.109,-.608,.107,-.7295,.094,-.63,.081,-.796,.015,-.799,.011,-.703,-.022,-.643,-.02,-.601,-.032];

// dense wedge at the metal rich end, dots cannot be told apart so these are estimates
const fieldCoreLeft = [-.707,.458,-.703,.465,-.699,.471,-.696,.462,-.692,.474,-.688,.479,-.69,.466,-.684,.47,-.682,.481,-.678,.476,-.675,.484,-.671,.479,-.668,.487,-.664,.481,-.661,.489,-.657,.484,-.654,.491,-.705,.449,-.7,.453,-.694,.455,-.687,.458,-.681,.463,-.674,.468,-.669,.471,-.662,.474,-.656,.476,-.703,.44,-.697,.444,-.69,.447,-.684,.451,-.677,.456,-.671,.459,-.665,.463,-.659,.466,-.653,.469,-.7,.431,-.693,.435,-.686,.44,-.68,.443,-.674,.447,-.668,.45,-.662,.455,-.656,.458,-.705,.425,-.697,.423,-.69,.427,-.683,.431,-.677,.436,-.671,.44,-.665,.443,-.659,.448,-.653,.451,-.703,.413,-.696,.413,-.689,.418,-.682,.421,-.675,.426,-.669,.43,-.662,.434,-.656,.44,-.7,.404,-.693,.404,-.686,.409,-.679,.412,-.672,.417,-.666,.421,-.66,.425,-.654,.43,-.704,.397,-.697,.394,-.689,.397,-.682,.402,-.675,.406,-.669,.41,-.663,.415,-.657,.42,-.702,.388,-.694,.385,-.686,.388,-.679,.393,-.672,.397,-.666,.401,-.66,.406,-.654,.41,-.698,.377,-.69,.376,-.682,.381,-.675,.385,-.669,.389,-.663,.393,-.657,.398,-.686,.368,-.678,.373,-.671,.377,-.665,.382,-.659,.386,-.653,.39,-.674,.365,-.667,.369,-.661,.374,-.655,.378,-.652,.37,-.66,.363,-.656,.366,-.652,.358];
const coreFe = [-.65,-.645,-.64,-.635,-.63,-.625,-.62,-.615,-.61,-.605,-.6];
const coreMg = [
  [.479,.472,.465,.459,.452,.446,.439,.433,.426,.419,.413,.406,.4,.393,.387,.38],
  [.482,.476,.469,.462,.456,.449,.443,.436,.429,.423,.416,.41,.403,.397,.39,.383,.377,.37],
  [.494,.486,.48,.473,.466,.46,.453,.447,.44,.434,.427,.42,.414,.407,.401,.394,.388,.381,.375,.368,.361],
  [.49,.483,.477,.47,.463,.457,.45,.444,.437,.43,.424,.417,.411,.404,.398,.391,.384,.378,.371,.365,.358],
  [.496,.488,.481,.474,.467,.461,.454,.448,.441,.435,.428,.421,.415,.408,.402,.395,.389,.382,.376,.369,.362,.355],
  [.491,.484,.478,.471,.464,.458,.451,.445,.438,.431,.425,.418,.412,.405,.399,.392,.385,.379,.372,.366,.359,.352],
  [.498,.49,.482,.475,.468,.462,.455,.449,.442,.436,.429,.422,.416,.409,.403,.396,.39,.383,.377,.37,.363,.356,.349],
  [.492,.485,.479,.472,.465,.459,.452,.446,.439,.432,.426,.419,.413,.406,.4,.393,.386,.38,.373,.367,.36,.353,.346],
  [.5,.491,.483,.476,.469,.463,.456,.45,.443,.437,.43,.423,.417,.41,.404,.397,.391,.384,.378,.371,.364,.357,.35,.344],
  [.494,.486,.48,.473,.466,.46,.453,.447,.44,.433,.427,.42,.414,.407,.401,.394,.387,.381,.374,.368,.361,.354,.347,.341],
  [.502,.492,.484,.477,.47,.464,.457,.451,.444,.438,.431,.424,.418,.411,.405,.398,.392,.385,.379,.372,.365,.358,.351,.345]
];

const xTicks = [-1.5,-1.4,-1.3,-1.2,-1.1,-1,-.9,-.8,-.7,-.6];
const yTicks = [0,.2,.4,.6,.8,1];
const xMinor = [-1.48,-1.46,-1.44,-1.42,-1.38,-1.36,-1.34,-1.32,-1.28,-1.26,-1.24,-1.22,-1.18,-1.16,-1.14,-1.12,-1.08,-1.06,-1.04,-1.02,-.98,-.96,-.94,-.92,-.88,-.86,-.84,-.82,-.78,-.76,-.74,-.72,-.68,-.66,-.64,-.62];
const yMinor = [-.05,.05,.1,.15,.25,.3,.35,.45,.5,.55,.65,.7,.75,.85,.9,.95,1.05];

const width = 2079, height = 1928;
const left = 236, right = 1980, top_ = 31, bottom = 1729;

const x = d3.scaleLinear().domain([-1.5, -.6]).range([left, right]);
const y = d3.scaleLinear().domain([-.1, 1.1]).range([bottom, top_]);

const svg = d3.select("#chart").attr("width", width).attr("height", height);

svg.append("clipPath").attr("id", "plot-area")
  .append("rect")
  .attr("x", left).attr("y", top_)
  .attr("width", right - left).attr("height", bottom - top_);

const toPoints = (flat) => d3.range(0, flat.length, 2).map((i) => [flat[i], flat[i + 1]]);

const field = [fieldLeft, fieldMidLeft, fieldLowLeft, fieldMid, fieldRight, fieldUpper, fieldLowMid, fieldLowRight, fieldCoreLeft]
  .flatMap(toPoints)
  .concat(coreFe.flatMap((fe, i) => coreMg[i].map((mg) => [fe, mg])));

// colour by local density, mirrored at the right limit since the sample runs on past it
const hx = .022, hy = .026;
const kernel = (dx, dy) => Math.exp(-.5 * (dx * dx / (hx * hx) + dy * dy / (hy * hy)));
const density = field.map(([fe, mg]) =>
  d3.sum(field, ([f, m]) => kernel(fe - f, mg - m) + kernel(fe - (-1.2 - f), mg - m)));
const maxDensity = d3.max(density);
const color = d3.scaleLinear()
  .domain([.18, .7, 1])
  .range(["#8bcffb", "#abe1fc", "#d6fcff"])
  .clamp(true);

const order = d3.range(field.length).sort((a, b) => density[a] - density[b]);

svg.append("g")
  .attr("clip-path", "url(#plot-area)")
  .selectAll("circle")
  .data(order)
  .join("circle")
  .attr("cx", (i) => x(field[i][0]))
  .attr("cy", (i) => y(field[i][1]))
  .attr("r", 5.5)
  .attr("fill", (i) => color(density[i] / maxDensity));

// axes, ticks point inward on all four sides
const styleAxis = (g, w) => {
  g.select(".domain").remove();
  g.selectAll("line").attr("stroke", "#000").attr("stroke-width", w);
};

const xFmt = d3.format(".1f");
svg.append("g").attr("transform", `translate(0,${bottom})`)
  .call(d3.axisBottom(x).tickValues(xTicks).tickSizeInner(-26).tickSizeOuter(0).tickPadding(21).tickFormat(xFmt))
  .call(styleAxis, 3.4)
  .selectAll("text").attr("font-size", 56).attr("font-family", "DejaVu Sans");
svg.append("g").attr("transform", `translate(0,${bottom})`)
  .call(d3.axisBottom(x).tickValues(xMinor).tickSizeInner(-17).tickSizeOuter(0).tickFormat(""))
  .call(styleAxis, 2.8);
svg.append("g").attr("transform", `translate(0,${top_})`)
  .call(d3.axisTop(x).tickValues(xTicks).tickSizeInner(-26).tickSizeOuter(0).tickFormat(""))
  .call(styleAxis, 3.4);
svg.append("g").attr("transform", `translate(0,${top_})`)
  .call(d3.axisTop(x).tickValues(xMinor).tickSizeInner(-17).tickSizeOuter(0).tickFormat(""))
  .call(styleAxis, 2.8);

svg.append("g").attr("transform", `translate(${left},0)`)
  .call(d3.axisLeft(y).tickValues(yTicks).tickSizeInner(-26).tickSizeOuter(0).tickPadding(20).tickFormat(xFmt))
  .call(styleAxis, 3.4)
  .selectAll("text").attr("font-size", 56).attr("font-family", "DejaVu Sans");
svg.append("g").attr("transform", `translate(${left},0)`)
  .call(d3.axisLeft(y).tickValues(yMinor).tickSizeInner(-17).tickSizeOuter(0).tickFormat(""))
  .call(styleAxis, 2.8);
svg.append("g").attr("transform", `translate(${right},0)`)
  .call(d3.axisRight(y).tickValues(yTicks).tickSizeInner(-26).tickSizeOuter(0).tickFormat(""))
  .call(styleAxis, 3.4);
svg.append("g").attr("transform", `translate(${right},0)`)
  .call(d3.axisRight(y).tickValues(yMinor).tickSizeInner(-17).tickSizeOuter(0).tickFormat(""))
  .call(styleAxis, 2.8);

svg.append("rect")
  .attr("x", left).attr("y", top_)
  .attr("width", right - left).attr("height", bottom - top_)
  .attr("fill", "none").attr("stroke", "#000").attr("stroke-width", 3.5);

// error cross
const cross = svg.append("g").attr("stroke", "#000").attr("stroke-width", 4);
cross.append("line")
  .attr("x1", x(errFe - errFeSize)).attr("x2", x(errFe + errFeSize))
  .attr("y1", y(errMg)).attr("y2", y(errMg));
cross.append("line")
  .attr("x1", x(errFe)).attr("x2", x(errFe))
  .attr("y1", y(errMg - errMgSize)).attr("y2", y(errMg + errMgSize));
[errFe - errFeSize, errFe + errFeSize].forEach((v) => {
  cross.append("line").attr("x1", x(v)).attr("x2", x(v))
    .attr("y1", y(errMg) - 12.5).attr("y2", y(errMg) + 12.5);
});
[errMg - errMgSize, errMg + errMgSize].forEach((v) => {
  cross.append("line").attr("y1", y(v)).attr("y2", y(v))
    .attr("x1", x(errFe) - 12.5).attr("x2", x(errFe) + 12.5);
});

svg.append("g")
  .selectAll("circle")
  .data(starFe)
  .join("circle")
  .attr("cx", (d) => x(d))
  .attr("cy", (d, i) => y(starMg[i]))
  .attr("r", 11.5)
  .attr("fill", "#000");

svg.append("text")
  .attr("x", (left + right) / 2).attr("y", 1884)
  .attr("text-anchor", "middle").attr("font-size", 83.5)
  .text("[Fe/H]");

svg.append("text")
  .attr("transform", `translate(101,${(top_ + bottom) / 2 + 7}) rotate(-90)`)
  .attr("text-anchor", "middle").attr("font-size", 83.5)
  .text("[Mg/Fe]");
</script>
</body>
</html>
